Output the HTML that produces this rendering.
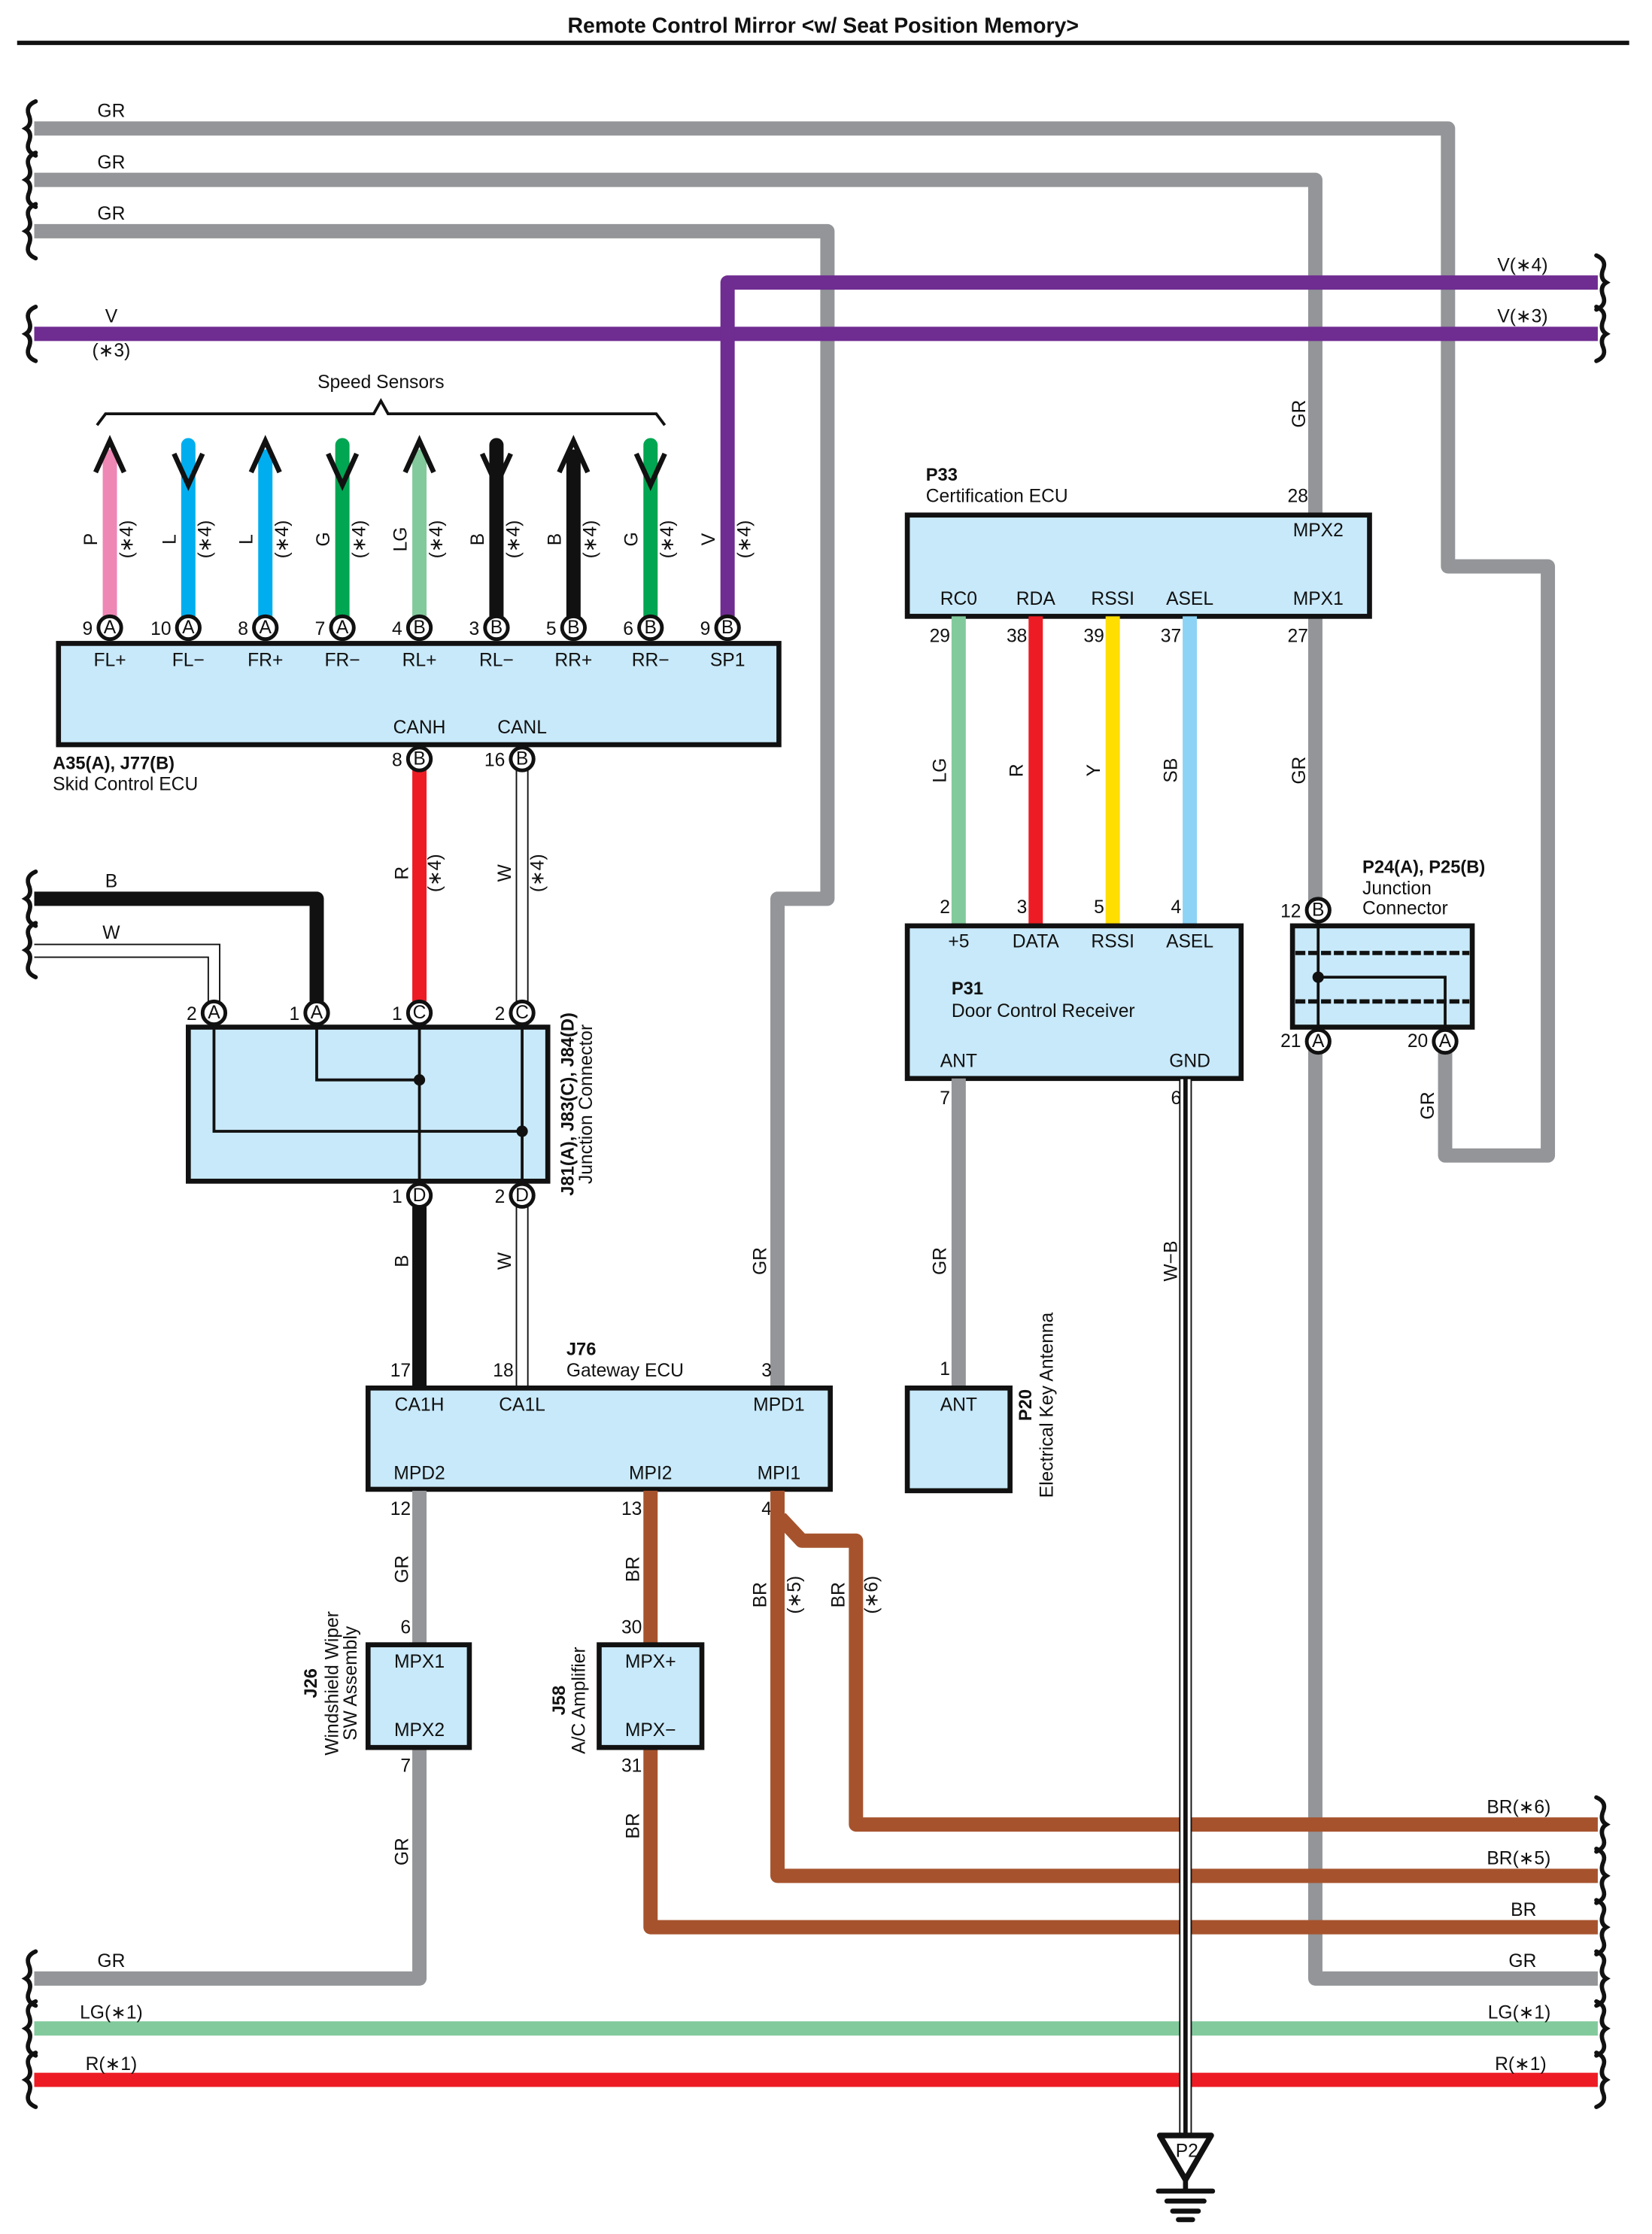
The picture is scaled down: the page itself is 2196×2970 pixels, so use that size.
<!DOCTYPE html>
<html><head><meta charset="utf-8"><style>
html,body{margin:0;padding:0;background:#fff}
svg{display:block}
text{font-family:"Liberation Sans Narrow","Liberation Sans",sans-serif;font-size:13px;fill:#111}
.b{font-weight:bold;font-family:"Liberation Sans",sans-serif;font-size:12.5px}
.m{text-anchor:middle}
.e{text-anchor:end}
.gr{stroke:#939598;stroke-width:10;fill:none;stroke-linejoin:round}
.box{fill:#c8e9f9;stroke:#111;stroke-width:3.5}
.br{stroke:#a6532d;stroke-width:10;fill:none;stroke-linejoin:round}
.pin{fill:#fff;stroke:#111;stroke-width:2.6}
.brace{fill:none;stroke:#111;stroke-width:2.5;stroke-linecap:round}
</style></head><body>
<svg width="2196" height="2970" viewBox="0 0 1158 1566" xmlns="http://www.w3.org/2000/svg">
<defs>
<path id="brc" d="M1,-19 q-7,3 -5,9 q3,7 -2,10 q5,3 2,10 q-2,6 5,9" fill="none" stroke="#111" stroke-width="3" stroke-linecap="round"/>
</defs>
<text x="577" y="23" class="b m" style="font-size:15px">Remote Control Mirror &lt;w/ Seat Position Memory&gt;</text>
<line x1="12" y1="30" x2="1142" y2="30" stroke="#111" stroke-width="3"/>

<path class="gr" d="M24,90 H1015 V397 H1085 V810 H1013 V738"/>
<path class="gr" d="M24,126 H922 V360"/>
<path class="gr" d="M922,432 V638"/>
<path class="gr" d="M922,730 V1387 H1120"/>
<path class="gr" d="M24,162 H580 V630 H545 V972"/>
<text x="78" y="82" class="m">GR</text>
<text x="78" y="118" class="m">GR</text>
<text x="78" y="154" class="m">GR</text>
<path d="M24,234 H1120" stroke="#6f2c91" stroke-width="10" fill="none"/>
<path d="M510,432 V198 H1120" stroke="#6f2c91" stroke-width="10" fill="none" stroke-linejoin="round"/>
<text x="78" y="226" class="m">V</text>
<text x="78" y="250" class="m">(∗3)</text>
<text x="1085" y="190" class="e">V(∗4)</text>
<text x="1085" y="226" class="e">V(∗3)</text>

<use href="#brc" x="24" y="90"/><use href="#brc" x="24" y="126"/><use href="#brc" x="24" y="162"/><use href="#brc" x="24" y="234"/>
<use href="#brc" x="24" y="630"/><use href="#brc" x="24" y="666"/>
<use href="#brc" x="24" y="1387"/><use href="#brc" x="24" y="1422"/><use href="#brc" x="24" y="1458"/>
<g transform="translate(1146,0) scale(-1,1)">
<use href="#brc" x="26" y="198"/><use href="#brc" x="26" y="234"/>
<use href="#brc" x="26" y="1279"/><use href="#brc" x="26" y="1315"/><use href="#brc" x="26" y="1351"/><use href="#brc" x="26" y="1387"/><use href="#brc" x="26" y="1422"/><use href="#brc" x="26" y="1458"/>
</g>

<text x="267" y="272" class="m">Speed Sensors</text>
<path d="M68,298 L74,290 H262 L267,281 L272,290 H460 L466,298" fill="none" stroke="#111" stroke-width="2"/>
<g stroke-linecap="round" fill="none">
<line x1="77" y1="320" x2="77" y2="432" stroke="#ef87b5" stroke-width="10"/>
<line x1="132" y1="312" x2="132" y2="432" stroke="#00aeef" stroke-width="10"/>
<line x1="186" y1="320" x2="186" y2="432" stroke="#00aeef" stroke-width="10"/>
<line x1="240" y1="312" x2="240" y2="432" stroke="#00a651" stroke-width="10"/>
<line x1="294" y1="320" x2="294" y2="432" stroke="#82ca9c" stroke-width="10"/>
<line x1="348" y1="312" x2="348" y2="432" stroke="#111" stroke-width="10"/>
<line x1="402" y1="320" x2="402" y2="432" stroke="#111" stroke-width="10"/>
<line x1="456" y1="312" x2="456" y2="432" stroke="#00a651" stroke-width="10"/>
</g>
<g stroke="#111" stroke-width="3.5" fill="none">
<polyline points="67,331 77,309 87,331"/>
<polyline points="122,318 132,340 142,318"/>
<polyline points="176,331 186,309 196,331"/>
<polyline points="230,318 240,340 250,318"/>
<polyline points="284,331 294,309 304,331"/>
<polyline points="338,318 348,340 358,318"/>
<polyline points="392,331 402,309 412,331"/>
<polyline points="446,318 456,340 466,318"/>
</g>
<g>
<text transform="translate(68,378) rotate(-90)" class="m">P</text><text transform="translate(93,378) rotate(-90)" class="m">(∗4)</text>
<text transform="translate(123,378) rotate(-90)" class="m">L</text><text transform="translate(148,378) rotate(-90)" class="m">(∗4)</text>
<text transform="translate(177,378) rotate(-90)" class="m">L</text><text transform="translate(202,378) rotate(-90)" class="m">(∗4)</text>
<text transform="translate(231,378) rotate(-90)" class="m">G</text><text transform="translate(256,378) rotate(-90)" class="m">(∗4)</text>
<text transform="translate(285,378) rotate(-90)" class="m">LG</text><text transform="translate(310,378) rotate(-90)" class="m">(∗4)</text>
<text transform="translate(339,378) rotate(-90)" class="m">B</text><text transform="translate(364,378) rotate(-90)" class="m">(∗4)</text>
<text transform="translate(393,378) rotate(-90)" class="m">B</text><text transform="translate(418,378) rotate(-90)" class="m">(∗4)</text>
<text transform="translate(447,378) rotate(-90)" class="m">G</text><text transform="translate(472,378) rotate(-90)" class="m">(∗4)</text>
<text transform="translate(501,378) rotate(-90)" class="m">V</text><text transform="translate(526,378) rotate(-90)" class="m">(∗4)</text>
</g>
<rect x="41" y="451" width="505" height="71" class="box"/>
<g class="m">
<text x="77" y="467" class="m">FL+</text><text x="132" y="467" class="m">FL−</text><text x="186" y="467" class="m">FR+</text><text x="240" y="467" class="m">FR−</text>
<text x="294" y="467" class="m">RL+</text><text x="348" y="467" class="m">RL−</text><text x="402" y="467" class="m">RR+</text><text x="456" y="467" class="m">RR−</text><text x="510" y="467" class="m">SP1</text>
<text x="294" y="514" class="m">CANH</text><text x="366" y="514" class="m">CANL</text>
</g>
<text x="37" y="539" class="b">A35(A), J77(B)</text>
<text x="37" y="554">Skid Control ECU</text>

<line x1="294" y1="540" x2="294" y2="702" stroke="#ed1c24" stroke-width="10"/>
<rect x="362" y="540" width="8" height="162" fill="#fff" stroke="#111" stroke-width="1"/>
<text transform="translate(286,612) rotate(-90)" class="m">R</text><text transform="translate(309,612) rotate(-90)" class="m">(∗4)</text>
<text transform="translate(358,612) rotate(-90)" class="m">W</text><text transform="translate(381,612) rotate(-90)" class="m">(∗4)</text>

<path d="M24,630 H222 V702" stroke="#111" stroke-width="10" fill="none" stroke-linejoin="round"/>
<path d="M24,662 H154 V702" stroke="#111" stroke-width="1" fill="none"/>
<path d="M24,671 H146 V702" stroke="#111" stroke-width="1" fill="none"/>
<text x="78" y="622" class="m">B</text>
<text x="78" y="658" class="m">W</text>

<rect x="132" y="720" width="252" height="108" class="box"/>
<g stroke="#111" stroke-width="2" fill="none">
<path d="M222,718 V757 H294"/>
<path d="M150,718 V793 H366"/>
<line x1="294" y1="718" x2="294" y2="830"/>
<line x1="366" y1="718" x2="366" y2="830"/>
</g>
<circle cx="294" cy="757" r="4" fill="#111"/><circle cx="366" cy="793" r="4" fill="#111"/>
<text transform="translate(402,774) rotate(-90)" class="b m">J81(A), J83(C), J84(D)</text>
<text transform="translate(415,774) rotate(-90)" class="m">Junction Connector</text>

<line x1="294" y1="846" x2="294" y2="972" stroke="#111" stroke-width="10"/>
<rect x="362" y="846" width="8" height="126" fill="#fff" stroke="#111" stroke-width="1"/>
<text transform="translate(286,884) rotate(-90)" class="m">B</text>
<text transform="translate(358,884) rotate(-90)" class="m">W</text>

<text x="397" y="950" class="b">J76</text>
<text x="397" y="965">Gateway ECU</text>
<text x="288" y="965" class="e">17</text><text x="360" y="965" class="e">18</text><text x="541" y="965" class="e">3</text>
<text transform="translate(537,884) rotate(-90)" class="m">GR</text>
<rect x="258" y="973" width="324" height="71" class="box"/>
<text x="294" y="989" class="m">CA1H</text><text x="366" y="989" class="m">CA1L</text><text x="546" y="989" class="m">MPD1</text>
<text x="294" y="1037" class="m">MPD2</text><text x="456" y="1037" class="m">MPI2</text><text x="546" y="1037" class="m">MPI1</text>
<text x="288" y="1062" class="e">12</text><text x="450" y="1062" class="e">13</text><text x="541" y="1062" class="e">4</text>

<path class="gr" d="M294,1045 V1153"/>
<path class="gr" d="M294,1225 V1387 H24"/>
<text transform="translate(286,1100) rotate(-90)" class="m">GR</text>
<text transform="translate(286,1298) rotate(-90)" class="m">GR</text>
<text x="78" y="1379" class="m">GR</text>
<text x="288" y="1145" class="e">6</text><text x="288" y="1242" class="e">7</text>
<rect x="258" y="1153" width="71" height="72" class="box"/>
<text x="294" y="1169" class="m">MPX1</text><text x="294" y="1217" class="m">MPX2</text>
<text transform="translate(222,1180) rotate(-90)" class="b m">J26</text>
<text transform="translate(237,1180) rotate(-90)" class="m">Windshield Wiper</text>
<text transform="translate(250,1180) rotate(-90)" class="m">SW Assembly</text>

<path class="br" d="M456,1045 V1153"/>
<path class="br" d="M456,1225 V1351 H1120"/>
<text transform="translate(448,1100) rotate(-90)" class="m">BR</text>
<text transform="translate(448,1280) rotate(-90)" class="m">BR</text>
<text x="450" y="1145" class="e">30</text><text x="450" y="1242" class="e">31</text>
<rect x="420" y="1153" width="72" height="72" class="box"/>
<text x="456" y="1169" class="m">MPX+</text><text x="456" y="1217" class="m">MPX−</text>
<text transform="translate(396,1192) rotate(-90)" class="b m">J58</text>
<text transform="translate(410,1192) rotate(-90)" class="m">A/C Amplifier</text>

<path class="br" d="M545,1045 V1315 H1120"/>
<path class="br" d="M547,1064 L562,1080 H600 V1279 H1120"/>
<text transform="translate(537,1118) rotate(-90)" class="m">BR</text><text transform="translate(561,1118) rotate(-90)" class="m">(∗5)</text>
<text transform="translate(592,1118) rotate(-90)" class="m">BR</text><text transform="translate(615,1118) rotate(-90)" class="m">(∗6)</text>
<text x="1087" y="1271" class="e">BR(∗6)</text>
<text x="1087" y="1307" class="e">BR(∗5)</text>
<text x="1077" y="1343" class="e">BR</text>
<text x="1077" y="1379" class="e">GR</text>

<line x1="24" y1="1422" x2="1120" y2="1422" stroke="#82ca9c" stroke-width="10"/>
<line x1="24" y1="1458" x2="1120" y2="1458" stroke="#ed1c24" stroke-width="10"/>
<text x="78" y="1415" class="m">LG(∗1)</text>
<text x="78" y="1451" class="m">R(∗1)</text>
<text x="1087" y="1415" class="e">LG(∗1)</text>
<text x="1084" y="1451" class="e">R(∗1)</text>

<text x="649" y="337" class="b">P33</text>
<text x="649" y="352">Certification ECU</text>
<text x="917" y="352" class="e">28</text>
<text transform="translate(915,290) rotate(-90)" class="m">GR</text>
<rect x="636" y="361" width="324" height="71" class="box"/>
<text x="924" y="376" class="m">MPX2</text>
<text x="672" y="424" class="m">RC0</text><text x="726" y="424" class="m">RDA</text><text x="780" y="424" class="m">RSSI</text><text x="834" y="424" class="m">ASEL</text><text x="924" y="424" class="m">MPX1</text>
<text x="666" y="450" class="e">29</text><text x="720" y="450" class="e">38</text><text x="774" y="450" class="e">39</text><text x="828" y="450" class="e">37</text><text x="917" y="450" class="e">27</text>
<line x1="672" y1="432" x2="672" y2="648" stroke="#82ca9c" stroke-width="10"/>
<line x1="726" y1="432" x2="726" y2="648" stroke="#ed1c24" stroke-width="10"/>
<line x1="780" y1="432" x2="780" y2="648" stroke="#ffde00" stroke-width="10"/>
<line x1="834" y1="432" x2="834" y2="648" stroke="#8dd3f5" stroke-width="10"/>
<text transform="translate(663,540) rotate(-90)" class="m">LG</text>
<text transform="translate(717,540) rotate(-90)" class="m">R</text>
<text transform="translate(771,540) rotate(-90)" class="m">Y</text>
<text transform="translate(825,540) rotate(-90)" class="m">SB</text>
<text transform="translate(915,540) rotate(-90)" class="m">GR</text>
<text x="666" y="640" class="e">2</text><text x="720" y="640" class="e">3</text><text x="774" y="640" class="e">5</text><text x="828" y="640" class="e">4</text>

<rect x="636" y="649" width="234" height="107" class="box"/>
<text x="672" y="664" class="m">+5</text><text x="726" y="664" class="m">DATA</text><text x="780" y="664" class="m">RSSI</text><text x="834" y="664" class="m">ASEL</text>
<text x="667" y="697" class="b">P31</text>
<text x="667" y="713">Door Control Receiver</text>
<text x="672" y="748" class="m">ANT</text><text x="834" y="748" class="m">GND</text>
<text x="666" y="774" class="e">7</text><text x="828" y="774" class="e">6</text>
<path class="gr" d="M672,756 V972"/>
<text transform="translate(663,884) rotate(-90)" class="m">GR</text>
<text x="666" y="964" class="e">1</text>
<rect x="636" y="973" width="72" height="72" class="box"/>
<text x="672" y="989" class="m">ANT</text>
<text transform="translate(723,985) rotate(-90)" class="b m">P20</text>
<text transform="translate(738,985) rotate(-90)" class="m">Electrical Key Antenna</text>

<rect x="827" y="756" width="8" height="742" fill="#fff" stroke="#111" stroke-width="1"/>
<line x1="831" y1="756" x2="831" y2="1498" stroke="#111" stroke-width="3"/>
<text transform="translate(825,884) rotate(-90)" class="m">W−B</text>
<polygon points="813,1497 849,1497 831,1528" fill="#fff" stroke="#111" stroke-width="4" stroke-linejoin="round"/>
<text x="832" y="1512" class="m" style="font-size:13px">P2</text>
<g stroke="#111" stroke-width="3.5" stroke-linecap="round">
<line x1="831" y1="1528" x2="831" y2="1535"/>
<line x1="812" y1="1536" x2="850" y2="1536"/>
<line x1="818" y1="1543" x2="844" y2="1543"/>
<line x1="822" y1="1550" x2="840" y2="1550"/>
<line x1="826" y1="1556" x2="836" y2="1556"/>
</g>

<text x="955" y="612" class="b">P24(A), P25(B)</text>
<text x="955" y="627">Junction</text>
<text x="955" y="641">Connector</text>
<rect x="906" y="649" width="126" height="71" class="box"/>
<g stroke="#111" stroke-width="3" stroke-dasharray="7,2">
<line x1="908" y1="668" x2="1030" y2="668"/>
<line x1="908" y1="702" x2="1030" y2="702"/>
</g>
<path d="M924,646 V722 M924,685 H1013 V722" stroke="#111" stroke-width="2" fill="none"/>
<circle cx="924" cy="685" r="4" fill="#111"/>
<text x="912" y="643" class="e">12</text><text x="912" y="734" class="e">21</text><text x="1001" y="734" class="e">20</text>
<text transform="translate(1005,775) rotate(-90)" class="m">GR</text>

<g>
<g class="pin">
<circle cx="77" cy="440" r="8"/><circle cx="132" cy="440" r="8"/><circle cx="186" cy="440" r="8"/><circle cx="240" cy="440" r="8"/>
<circle cx="294" cy="440" r="8"/><circle cx="348" cy="440" r="8"/><circle cx="402" cy="440" r="8"/><circle cx="456" cy="440" r="8"/><circle cx="510" cy="440" r="8"/>
<circle cx="294" cy="532" r="8"/><circle cx="366" cy="532" r="8"/>
<circle cx="150" cy="710" r="8"/><circle cx="222" cy="710" r="8"/><circle cx="294" cy="710" r="8"/><circle cx="366" cy="710" r="8"/>
<circle cx="294" cy="838" r="8"/><circle cx="366" cy="838" r="8"/>
<circle cx="924" cy="638" r="8"/><circle cx="924" cy="730" r="8"/><circle cx="1013" cy="730" r="8"/>
</g>
<g style="font-size:11.5px">
<text x="77" y="444" class="m">A</text><text x="132" y="444" class="m">A</text><text x="186" y="444" class="m">A</text><text x="240" y="444" class="m">A</text>
<text x="294" y="444" class="m">B</text><text x="348" y="444" class="m">B</text><text x="402" y="444" class="m">B</text><text x="456" y="444" class="m">B</text><text x="510" y="444" class="m">B</text>
<text x="294" y="536" class="m">B</text><text x="366" y="536" class="m">B</text>
<text x="150" y="714" class="m">A</text><text x="222" y="714" class="m">A</text><text x="294" y="714" class="m">C</text><text x="366" y="714" class="m">C</text>
<text x="294" y="842" class="m">D</text><text x="366" y="842" class="m">D</text>
<text x="924" y="642" class="m">B</text><text x="924" y="734" class="m">A</text><text x="1013" y="734" class="m">A</text>
</g>
<g>
<text x="65" y="445" class="e">9</text><text x="120" y="445" class="e">10</text><text x="174" y="445" class="e">8</text><text x="228" y="445" class="e">7</text>
<text x="282" y="445" class="e">4</text><text x="336" y="445" class="e">3</text><text x="390" y="445" class="e">5</text><text x="444" y="445" class="e">6</text><text x="498" y="445" class="e">9</text>
<text x="282" y="537" class="e">8</text><text x="354" y="537" class="e">16</text>
<text x="138" y="715" class="e">2</text><text x="210" y="715" class="e">1</text><text x="282" y="715" class="e">1</text><text x="354" y="715" class="e">2</text>
<text x="282" y="843" class="e">1</text><text x="354" y="843" class="e">2</text>
</g>
</g>
</svg>
</body></html>
